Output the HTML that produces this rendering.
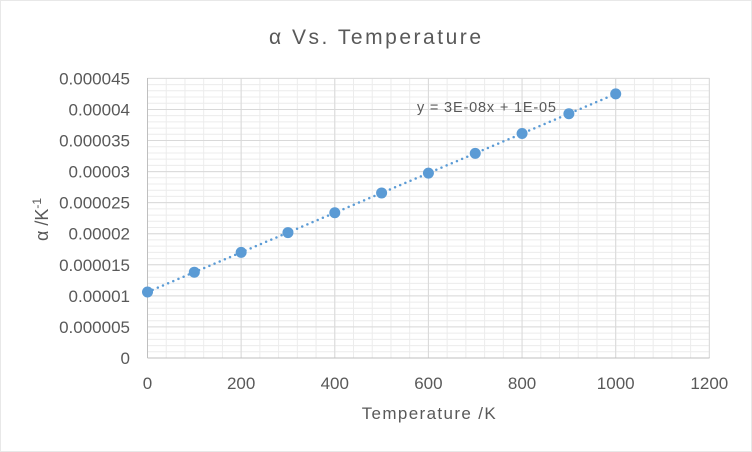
<!DOCTYPE html>
<html><head><meta charset="utf-8"><style>
html,body{margin:0;padding:0;background:#fff;}
svg{display:block;}
text{font-family:"Liberation Sans",sans-serif;fill:#595959;}
</style></head><body>
<svg width="752" height="452" viewBox="0 0 752 452" xmlns="http://www.w3.org/2000/svg">
<rect x="0.5" y="0.5" width="751" height="451" fill="#fff" stroke="#d0d0d0" stroke-width="1" stroke-dasharray="1 1"/>
<g id="minor" stroke="#ececec" stroke-width="1">
</g>
<g id="major" stroke="#d9d9d9" stroke-width="1">
</g>
<line x1="147.5" y1="78" x2="147.5" y2="358" stroke="#bfbfbf" stroke-width="1"/>
<line x1="147.5" y1="358" x2="709.5" y2="358" stroke="#bfbfbf" stroke-width="1"/>
<g id="labels"></g>
<text x="375" y="44" font-size="21" text-anchor="middle" textLength="212">α Vs. Temperature</text>
<text x="428.7" y="419" font-size="17" text-anchor="middle" textLength="134">Temperature /K</text>
<text transform="translate(48,219.5) rotate(-90)" font-size="18" text-anchor="middle">α /K<tspan font-size="12" dy="-7">-1</tspan></text>
<line x1="147.5" y1="292" x2="615.7" y2="93.9" stroke="#5b9bd5" stroke-width="2.5" stroke-linecap="round" stroke-dasharray="0 5.6"/>
<g id="pts" fill="#5b9bd5"></g>
<text x="417" y="112" font-size="14.5" textLength="139">y = 3E-08x + 1E-05</text>
</svg>
<script>
var ns="http://www.w3.org/2000/svg";
function el(p,t,a,txt){var e=document.createElementNS(ns,t);for(var k in a)e.setAttribute(k,a[k]);if(txt!=null)e.textContent=txt;document.getElementById(p).appendChild(e);}
var x0=147.5,xs=0.4682,y0=358,ys=6.214;
for(var i=0;i<=30;i++){var x=x0+i*40*xs;el("minor","line",{x1:x,y1:78,x2:x,y2:358});}
for(var j=0;j<=45;j++){var y=y0-j*ys;el("minor","line",{x1:147.5,y1:y,x2:709.5,y2:y});}
for(var i=0;i<=6;i++){var x=x0+i*200*xs;el("major","line",{x1:x,y1:78,x2:x,y2:358});
 el("labels","text",{x:x,y:389,"font-size":17,"text-anchor":"middle"},String(i*200));}
var yl=["0","0.000005","0.00001","0.000015","0.00002","0.000025","0.00003","0.000035","0.00004","0.000045"];
for(var j=0;j<=9;j++){var y=y0-j*5*ys;el("major","line",{x1:147.5,y1:y,x2:709.5,y2:y});
 el("labels","text",{x:130,y:y+6,"font-size":17,"text-anchor":"end"},yl[j]);}
for(var k=0;k<=10;k++){var xv=k*100;el("pts","circle",{cx:x0+xv*xs,cy:292-0.1981*xv,r:5.5});}
</script>
</body></html>
